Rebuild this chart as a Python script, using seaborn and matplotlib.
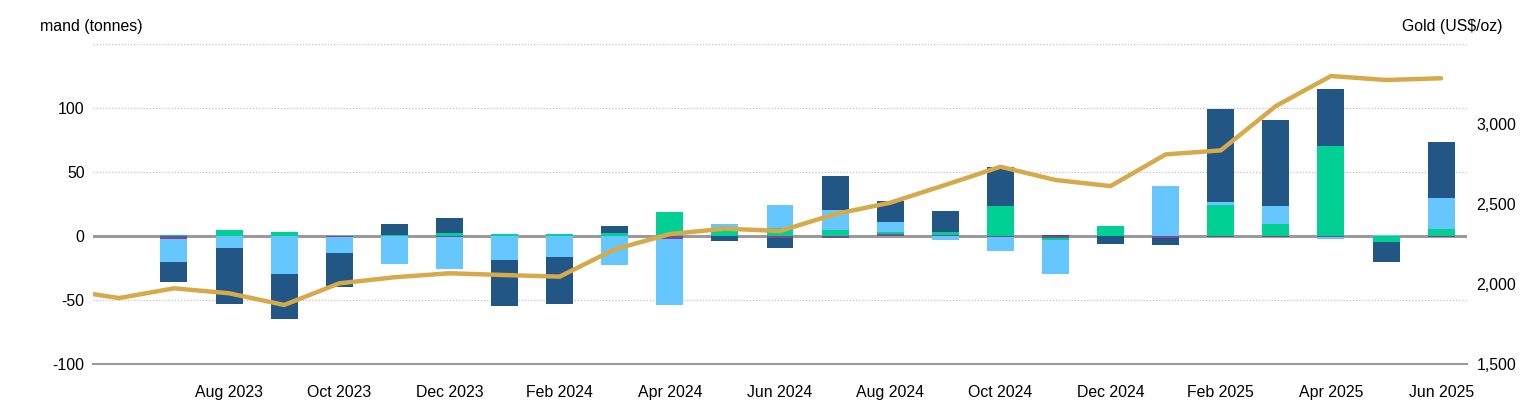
import numpy as np
import pandas as pd
import matplotlib
matplotlib.use("Agg")
import matplotlib.pyplot as plt
import seaborn as sns

# ---------------- data ----------------
bar_months = ["Jul 2023", "Aug 2023", "Sep 2023", "Oct 2023", "Nov 2023", "Dec 2023",
              "Jan 2024", "Feb 2024", "Mar 2024", "Apr 2024", "May 2024", "Jun 2024",
              "Jul 2024", "Aug 2024", "Sep 2024", "Oct 2024", "Nov 2024", "Dec 2024",
              "Jan 2025", "Feb 2025", "Mar 2025", "Apr 2025", "May 2025", "Jun 2025"]

other = [-2.0, 0.0, 0.0, -1.0, 0.0, -0.8, 0.0, 0.0, 0.0, -2.0, 0.0, -1.5,
         -1.3, 1.8, 0.8, -0.8, -1.4, 0.0, -1.5, -0.8, -1.0, -1.0, 0.0, -1.0]
asia = [1.0, 5.0, 3.0, 0.0, 0.5, 2.6, 1.6, 1.6, 2.6, 18.5, 5.8, 6.3,
        4.5, 1.0, 2.0, 23.4, -1.8, 7.6, 0.0, 24.1, 9.4, 70.6, -4.7, 5.5]
europe = [-18.5, -9.5, -29.5, -12.5, -21.5, -25.0, -19.0, -16.5, -22.5, -52.0, 3.4, 17.8,
          15.7, 8.2, -3.0, -11.3, -26.5, 0.0, 38.8, 2.1, 13.9, -1.3, 0.8, 23.9]
north_america = [-15.5, -43.5, -35.5, -26.5, 8.7, 11.8, -36.0, -36.5, 5.0, 0.6, -4.2, -7.6,
                 26.8, 16.3, 16.4, 30.4, 0.6, -6.0, -5.3, 72.7, 67.7, 44.1, -16.0, 44.1]

price_months = ["May 2023", "Jun 2023"] + bar_months
gold_price = [1965, 1912, 1973, 1942, 1869, 2004, 2042, 2067, 2056, 2046, 2217, 2312,
              2346, 2331, 2437, 2508, 2619, 2733, 2650, 2612, 2810, 2835, 3112, 3300,
              3275, 3286]

tick_labels = ["Aug 2023", "Oct 2023", "Dec 2023", "Feb 2024", "Apr 2024", "Jun 2024",
               "Aug 2024", "Oct 2024", "Dec 2024", "Feb 2025", "Apr 2025", "Jun 2025"]

left_ticks = [-100, -50, 0, 50, 100, 150]
right_ticks = [1500, 2000, 2500, 3000]

# ---------------- style ----------------
sns.set_theme(style="white")
plt.rcParams['font.family'] = ['Liberation Sans', 'DejaVu Sans']
FS = 11.4


def midx(lbl):
    d = pd.to_datetime(lbl, format="%b %Y")
    return (d.year - 2023) * 12 + d.month - 6


W, H = 1532, 407
fig = plt.figure(figsize=(W / 100, H / 100), dpi=100)
ax = fig.add_axes([93 / W, 1 - 364 / H, (1467 - 93) / W, (364 - 44) / H])

bx = np.array([midx(m) for m in bar_months], float)
series = [("Other", other, "#7b4a92"),
          ("Asia", asia, "#00d094"),
          ("Europe", europe, "#66c7ff"),
          ("North America", north_america, "#225785")]

pos = np.zeros(len(bx))
neg = np.zeros(len(bx))
for name, vals, col in series:
    v = np.array(vals, float)
    base = np.where(v >= 0, pos, neg)
    df = pd.DataFrame({"x": bx, "y": v})
    sns.barplot(data=df, x="x", y="y", native_scale=True, width=0.49, color=col,
                saturation=1, errorbar=None, bottom=base, linewidth=0, ax=ax, zorder=3)
    pos = pos + np.where(v > 0, v, 0)
    neg = neg + np.where(v < 0, v, 0)

ax.axhline(0, color="#9a9a9a", lw=2.2, zorder=2.5)

ax.set_xlim(-0.47, 24.47)
ax.set_ylim(-100, 150)
ax.set_yticks(left_ticks)
ax.set_yticklabels([str(t) if t != 150 else "" for t in left_ticks], fontsize=FS, color="black")
ax.set_xticks([midx(t) for t in tick_labels])
ax.set_xticklabels(tick_labels, fontsize=FS, color="black")
ax.tick_params(axis="x", length=9, width=1.3, color="#8c8c8c", direction="out", pad=6)
ax.tick_params(axis="y", length=0, pad=6)
ax.yaxis.grid(True, linestyle=(0, (1, 1.5)), color="#c4c4c4", lw=0.9, zorder=0)
ax.xaxis.grid(False)
ax.set_axisbelow(True)
for s in ["top", "left", "right"]:
    ax.spines[s].set_visible(False)
ax.spines["bottom"].set_color("#9a9a9a")
ax.spines["bottom"].set_linewidth(1.5)
ax.set_xlabel("")
ax.set_ylabel("")

ax2 = ax.twinx()
px = np.array([midx(m) for m in price_months], float)
sns.lineplot(x=px, y=gold_price, ax=ax2, color="#d6aa4b", lw=3.2, zorder=4)
ax2.set_ylim(1500, 3500)
ax2.set_yticks(right_ticks)
ax2.set_yticklabels([f"{t:,}" for t in right_ticks], fontsize=FS, color="black")
ax2.tick_params(axis="y", length=0, pad=7)
for s in ["top", "left", "right", "bottom"]:
    ax2.spines[s].set_visible(False)
ax2.set_xlabel("")
ax2.set_ylabel("")
ax2.grid(False)
ax.set_xlim(-0.47, 24.47)

fig.text(40 / W, 1 - 27 / H, "mand (tonnes)", ha="left", va="center", fontsize=FS, color="black")
fig.text(1503 / W, 1 - 27 / H, "Gold (US\\$/oz)", ha="right", va="center", fontsize=FS, color="black")

fig.savefig("out.png", dpi=100)
